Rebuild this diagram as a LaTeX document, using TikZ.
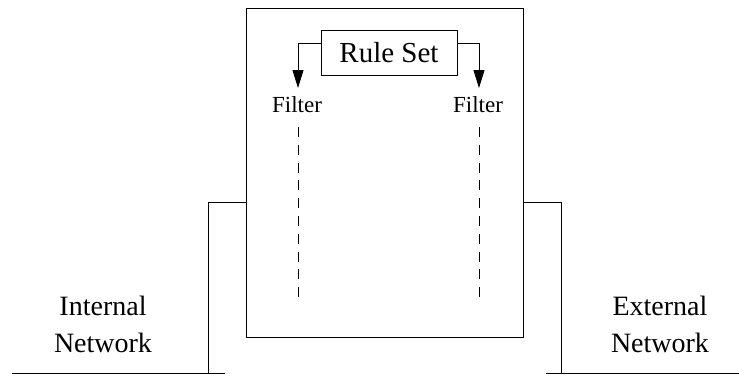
\documentclass[tikz,border=0pt]{standalone}
\usepackage{fontspec}
\setmainfont{Liberation Serif}
\usetikzlibrary{arrows.meta}
\begin{document}
\begin{tikzpicture}[x=1pt,y=-1pt,
  line width=0.9pt,
  wire/.style={draw=black},
  boxline/.style={draw=black,line width=0.9pt},
  feed/.style={draw=black,-{Triangle[length=18pt,width=11pt]}},
  filterpath/.style={draw=black,line width=0.8pt,dash pattern=on 10pt off 7.8pt},
  netlabel/.style={align=center,font=\fontsize{28}{37}\selectfont,inner sep=0pt},
  filterlabel/.style={font=\fontsize{23}{26}\selectfont,inner sep=0pt,anchor=base}
]
\useasboundingbox (0,0) rectangle (739,375);

% firewall enclosure
\node[boxline,minimum width=277pt,minimum height=329pt,inner sep=0pt,anchor=north west] (fw) at (246,8) {};

% rule set box
\node[boxline,minimum width=136pt,minimum height=45pt,inner sep=0pt,font=\fontsize{29}{32}\selectfont] (rules) at (389,52.5) {Rule Set};

% filter labels
\node[filterlabel] (fl) at (297,112) {Filter};
\node[filterlabel] (fr) at (478,112) {Filter};

% arrows from the rule set down to each filter
\coordinate (lt) at (298,88);
\coordinate (rt) at (479,88);
\draw[feed] (rules.west |- 0,43) -| (lt);
\draw[feed] (rules.east |- 0,43) -| (rt);

% packet paths through the filters
\coordinate (ls) at (298,127);
\coordinate (le) at (298,297);
\coordinate (rs) at (479,127);
\coordinate (re) at (479,297);
\draw[filterpath] (ls) -- (le);
\draw[filterpath] (rs) -- (re);

% internal side connection
\coordinate (il) at (208.5,374);
\draw[wire] (fw.west |- 0,202.5) -| (il);
\coordinate (ia) at (12,373.5);
\coordinate (ib) at (225,373.5);
\draw[wire] (ia) -- (ib);

% external side connection
\coordinate (el) at (561,374);
\draw[wire] (fw.east |- 0,202.5) -| (el);
\coordinate (ea) at (546,373.5);
\coordinate (eb) at (739,373.5);
\draw[wire] (ea) -- (eb);

% network labels
\node[netlabel,anchor=base] (inl) at (103,315) {Internal};
\node[netlabel,anchor=base] (inn) at (103,352) {Network};
\node[netlabel,anchor=base] (exl) at (660,315) {External};
\node[netlabel,anchor=base] (exn) at (660,352) {Network};
\end{tikzpicture}
\end{document}
